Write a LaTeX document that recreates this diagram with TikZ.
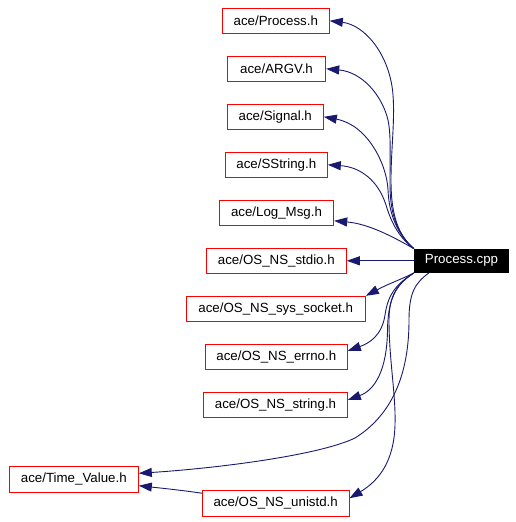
\documentclass[tikz,border=0pt]{standalone}
\usepackage{fontspec}
\setmainfont{Liberation Sans}
\usetikzlibrary{arrows.meta}
\definecolor{edgec}{HTML}{191970}
\begin{document}
\begin{tikzpicture}[x=1pt,y=-1pt,
  hdr/.style={draw=red, line width=1pt, inner sep=0pt, minimum height=25pt,
    font=\fontsize{13.3}{16}\selectfont},
  cppbox/.style={fill=black, text=white, inner sep=0pt, minimum width=95pt,
    minimum height=24pt, font=\fontsize{13.3}{16}\selectfont},
  dep/.style={draw=edgec, line width=0.9pt, -{Triangle[length=13pt,width=9pt]}}]
\useasboundingbox (0,0) rectangle (516,522);
\node[hdr, minimum width=107pt]   (proc)    at (275.8,20.8)  {ace/Process.h};
\node[hdr, minimum width=98.4pt]  (argv)    at (276.5,68.8)  {ace/ARGV.h};
\node[hdr, minimum width=96pt]    (signal)  at (275.3,116.8) {ace/Signal.h};
\node[hdr, minimum width=102pt]   (sstring) at (276.3,164.8) {ace/SString.h};
\node[hdr, minimum width=114.4pt] (logmsg)  at (276.5,212.8) {ace/Log\_Msg.h};
\node[hdr, minimum width=140pt]   (stdio)   at (276.3,260.8) {ace/OS\_NS\_stdio.h};
\node[hdr, minimum width=179.3pt] (socket)  at (275.7,308.8) {ace/OS\_NS\_sys\_socket.h};
\node[hdr, minimum width=142pt]   (errno)   at (276.3,356.8) {ace/OS\_NS\_errno.h};
\node[hdr, minimum width=143.6pt] (string)  at (275.5,404.8) {ace/OS\_NS\_string.h};
\node[hdr, minimum width=129pt, minimum height=26pt] (timev) at (73.8,479.3) {ace/Time\_Value.h};
\node[hdr, minimum width=146.7pt, minimum height=25.7pt] (unistd) at (275.7,503.2) {ace/OS\_NS\_unistd.h};
\node[cppbox] (cpp) at (461.5,260.8) {Process.cpp};

\draw[dep] (cpp.north west) .. controls (398,235) and (391,215) .. (391,180)
  .. controls (391,150) and (395,120) .. (393,95)
  .. controls (390,55) and (365,25) .. (proc.east);
\draw[dep] (cpp.north west) .. controls (398,235) and (390,215) .. (390,185)
  .. controls (390,150) and (391,135) .. (388,120)
  .. controls (382,95) and (362,72) .. (argv.east);
\draw[dep] (cpp.north west) .. controls (398,235) and (389,215) .. (388,190)
  .. controls (387,165) and (368,125) .. (signal.east);
\draw[dep] (cpp.north west) .. controls (400,238) and (392,225) .. (386,205)
  .. controls (378,180) and (360,167) .. (sstring.east);
\draw[dep] (cpp.north west) .. controls (395,238) and (370,224) .. ([yshift=-8pt]logmsg.east);
\draw[dep] (cpp.west) -- (stdio.east);
\draw[dep] (cpp.south west) .. controls (400,280) and (390,283) .. (socket.north east);
\draw[dep] (cpp.south west) .. controls (395,285) and (388,295) .. (385,315)
  .. controls (382,335) and (370,343) .. ([yshift=-7pt]errno.north east);
\draw[dep] (cpp.south west) .. controls (395,285) and (388,300) .. (387.5,330)
  .. controls (387,370) and (375,390) .. ([yshift=4.8pt]string.east);
\draw[dep] ([xshift=15pt]cpp.south west) .. controls (415,283) and (409,293) .. (409,320)
  .. controls (409,360) and (400,410) .. (355,438)
  .. controls (320,455) and (220,468) .. ([yshift=6pt]timev.east);
\draw[dep] (cpp.south west) .. controls (398,283) and (389,295) .. (389,320)
  .. controls (389,360) and (396,395) .. (395,425)
  .. controls (394,460) and (380,480) .. ([yshift=5pt]unistd.east);
\draw[dep] ([yshift=10pt]unistd.west) .. controls (180,490) and (160,488) .. ([yshift=-6.4pt]timev.east);
\end{tikzpicture}
\end{document}
